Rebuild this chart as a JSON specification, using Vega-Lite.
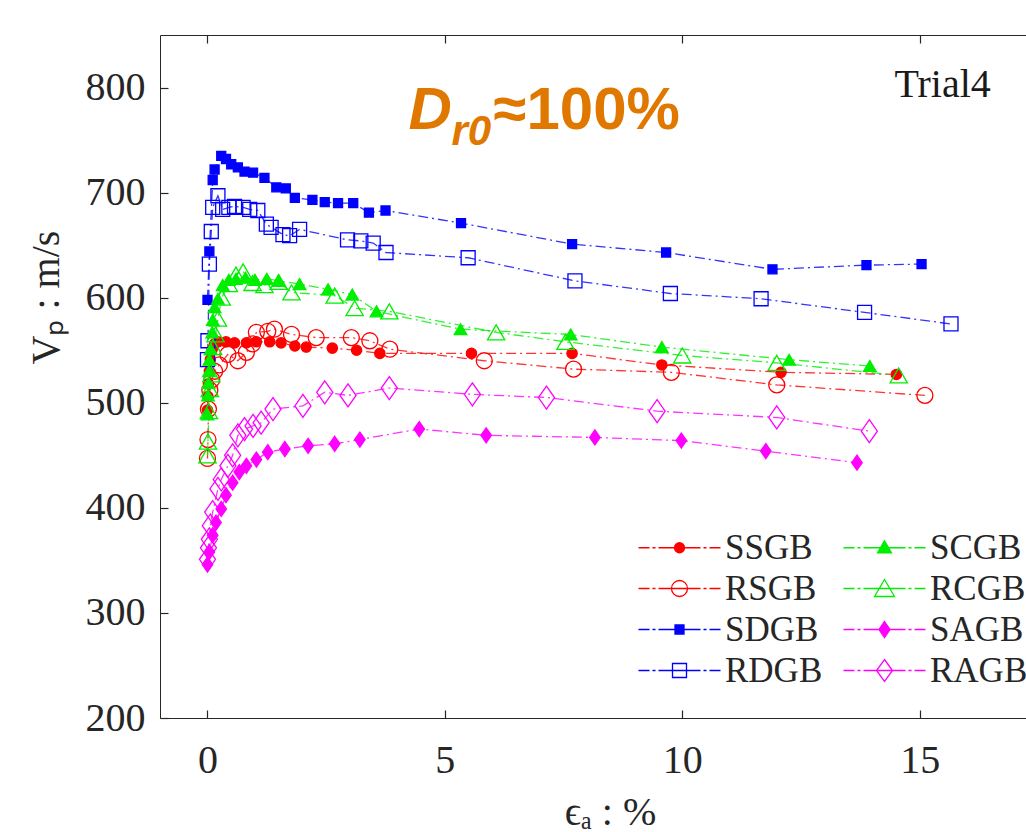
{
  "$schema": "https://vega.github.io/schema/vega-lite/v6.json",
  "autosize": "none",
  "width": 866,
  "height": 683,
  "padding": {"left": 160, "top": 35, "right": 0, "bottom": 114},
  "background": "white",
  "config": {"view": {"stroke": null}, "font": "Liberation Serif"},
  "data": {"values": [
    {"s":"SSGB","e":0,"v":493},{"s":"SSGB","e":0.01,"v":506},{"s":"SSGB","e":0.02,"v":518},{"s":"SSGB","e":0.04,"v":530},{"s":"SSGB","e":0.06,"v":541},{"s":"SSGB","e":0.1,"v":551},{"s":"SSGB","e":0.15,"v":556},{"s":"SSGB","e":0.22,"v":558},{"s":"SSGB","e":0.39,"v":558},{"s":"SSGB","e":0.57,"v":557},{"s":"SSGB","e":0.82,"v":557},{"s":"SSGB","e":1.03,"v":558},{"s":"SSGB","e":1.31,"v":558},{"s":"SSGB","e":1.55,"v":557},{"s":"SSGB","e":1.84,"v":554},{"s":"SSGB","e":2.08,"v":553},{"s":"SSGB","e":2.63,"v":552},{"s":"SSGB","e":3.14,"v":550},{"s":"SSGB","e":3.63,"v":547},{"s":"SSGB","e":5.56,"v":547},{"s":"SSGB","e":7.68,"v":547},{"s":"SSGB","e":9.57,"v":536},{"s":"SSGB","e":12.08,"v":529},{"s":"SSGB","e":14.51,"v":527},
    {"s":"RSGB","e":0,"v":447},{"s":"RSGB","e":0.01,"v":465},{"s":"RSGB","e":0.02,"v":494},{"s":"RSGB","e":0.05,"v":512},{"s":"RSGB","e":0.09,"v":522},{"s":"RSGB","e":0.15,"v":530},{"s":"RSGB","e":0.25,"v":536},{"s":"RSGB","e":0.43,"v":546},{"s":"RSGB","e":0.64,"v":540},{"s":"RSGB","e":0.82,"v":548},{"s":"RSGB","e":0.95,"v":556},{"s":"RSGB","e":1.03,"v":567},{"s":"RSGB","e":1.27,"v":568},{"s":"RSGB","e":1.41,"v":570},{"s":"RSGB","e":1.77,"v":565},{"s":"RSGB","e":2.29,"v":562},{"s":"RSGB","e":3.03,"v":562},{"s":"RSGB","e":3.42,"v":559},{"s":"RSGB","e":3.84,"v":551},{"s":"RSGB","e":5.83,"v":540},{"s":"RSGB","e":7.71,"v":532},{"s":"RSGB","e":9.77,"v":529},{"s":"RSGB","e":11.99,"v":517},{"s":"RSGB","e":15.11,"v":507},
    {"s":"SDGB","e":0,"v":598},{"s":"SDGB","e":0.04,"v":644},{"s":"SDGB","e":0.11,"v":712},{"s":"SDGB","e":0.15,"v":722},{"s":"SDGB","e":0.29,"v":735},{"s":"SDGB","e":0.39,"v":732},{"s":"SDGB","e":0.5,"v":727},{"s":"SDGB","e":0.64,"v":724},{"s":"SDGB","e":0.78,"v":720},{"s":"SDGB","e":0.96,"v":719},{"s":"SDGB","e":1.2,"v":714},{"s":"SDGB","e":1.45,"v":705},{"s":"SDGB","e":1.65,"v":704},{"s":"SDGB","e":1.84,"v":695},{"s":"SDGB","e":2.21,"v":693},{"s":"SDGB","e":2.47,"v":691},{"s":"SDGB","e":2.75,"v":690},{"s":"SDGB","e":3.07,"v":690},{"s":"SDGB","e":3.4,"v":681},{"s":"SDGB","e":3.75,"v":683},{"s":"SDGB","e":5.34,"v":671},{"s":"SDGB","e":7.68,"v":651},{"s":"SDGB","e":9.66,"v":643},{"s":"SDGB","e":11.9,"v":627},{"s":"SDGB","e":13.88,"v":631},{"s":"SDGB","e":15.04,"v":632},
    {"s":"RDGB","e":0,"v":541},{"s":"RDGB","e":0.01,"v":559},{"s":"RDGB","e":0.04,"v":632},{"s":"RDGB","e":0.08,"v":663},{"s":"RDGB","e":0.11,"v":686},{"s":"RDGB","e":0.22,"v":697},{"s":"RDGB","e":0.32,"v":684},{"s":"RDGB","e":0.45,"v":686},{"s":"RDGB","e":0.57,"v":687},{"s":"RDGB","e":0.75,"v":686},{"s":"RDGB","e":0.89,"v":684},{"s":"RDGB","e":1.06,"v":683},{"s":"RDGB","e":1.24,"v":670},{"s":"RDGB","e":1.34,"v":667},{"s":"RDGB","e":1.59,"v":660},{"s":"RDGB","e":1.73,"v":659},{"s":"RDGB","e":1.94,"v":665},{"s":"RDGB","e":2.95,"v":655},{"s":"RDGB","e":3.23,"v":654},{"s":"RDGB","e":3.49,"v":652},{"s":"RDGB","e":3.76,"v":643},{"s":"RDGB","e":5.49,"v":638},{"s":"RDGB","e":7.74,"v":616},{"s":"RDGB","e":9.75,"v":604},{"s":"RDGB","e":11.66,"v":599},{"s":"RDGB","e":13.84,"v":586},{"s":"RDGB","e":15.66,"v":575},
    {"s":"SCGB","e":0,"v":489},{"s":"SCGB","e":0.01,"v":507},{"s":"SCGB","e":0.02,"v":519},{"s":"SCGB","e":0.03,"v":530},{"s":"SCGB","e":0.04,"v":541},{"s":"SCGB","e":0.07,"v":551},{"s":"SCGB","e":0.1,"v":567},{"s":"SCGB","e":0.11,"v":579},{"s":"SCGB","e":0.15,"v":591},{"s":"SCGB","e":0.22,"v":599},{"s":"SCGB","e":0.32,"v":612},{"s":"SCGB","e":0.45,"v":617},{"s":"SCGB","e":0.6,"v":618},{"s":"SCGB","e":0.8,"v":619},{"s":"SCGB","e":1.0,"v":617},{"s":"SCGB","e":1.25,"v":618},{"s":"SCGB","e":1.5,"v":616},{"s":"SCGB","e":1.94,"v":613},{"s":"SCGB","e":2.54,"v":608},{"s":"SCGB","e":3.05,"v":603},{"s":"SCGB","e":3.56,"v":587},{"s":"SCGB","e":5.33,"v":570},{"s":"SCGB","e":7.65,"v":565},{"s":"SCGB","e":9.57,"v":553},{"s":"SCGB","e":12.25,"v":541},{"s":"SCGB","e":13.95,"v":535},
    {"s":"RCGB","e":0,"v":450},{"s":"RCGB","e":0.01,"v":463},{"s":"RCGB","e":0.03,"v":492},{"s":"RCGB","e":0.05,"v":513},{"s":"RCGB","e":0.08,"v":527},{"s":"RCGB","e":0.12,"v":553},{"s":"RCGB","e":0.17,"v":565},{"s":"RCGB","e":0.22,"v":580},{"s":"RCGB","e":0.3,"v":600},{"s":"RCGB","e":0.45,"v":613},{"s":"RCGB","e":0.6,"v":622},{"s":"RCGB","e":0.75,"v":625},{"s":"RCGB","e":0.95,"v":614},{"s":"RCGB","e":1.2,"v":612},{"s":"RCGB","e":1.5,"v":615},{"s":"RCGB","e":1.77,"v":605},{"s":"RCGB","e":2.68,"v":602},{"s":"RCGB","e":3.1,"v":590},{"s":"RCGB","e":3.83,"v":587},{"s":"RCGB","e":6.08,"v":567},{"s":"RCGB","e":7.54,"v":558},{"s":"RCGB","e":10.0,"v":545},{"s":"RCGB","e":11.99,"v":538},{"s":"RCGB","e":14.56,"v":526},
    {"s":"SAGB","e":0,"v":346},{"s":"SAGB","e":0.04,"v":358},{"s":"SAGB","e":0.11,"v":374},{"s":"SAGB","e":0.18,"v":386},{"s":"SAGB","e":0.29,"v":399},{"s":"SAGB","e":0.39,"v":412},{"s":"SAGB","e":0.53,"v":424},{"s":"SAGB","e":0.67,"v":434},{"s":"SAGB","e":0.82,"v":440},{"s":"SAGB","e":1.03,"v":446},{"s":"SAGB","e":1.27,"v":453},{"s":"SAGB","e":1.63,"v":456},{"s":"SAGB","e":2.12,"v":459},{"s":"SAGB","e":2.68,"v":461},{"s":"SAGB","e":3.21,"v":465},{"s":"SAGB","e":4.46,"v":475},{"s":"SAGB","e":5.87,"v":469},{"s":"SAGB","e":8.16,"v":467},{"s":"SAGB","e":9.98,"v":464},{"s":"SAGB","e":11.76,"v":454},{"s":"SAGB","e":13.68,"v":443},
    {"s":"RAGB","e":0,"v":351},{"s":"RAGB","e":0.02,"v":362},{"s":"RAGB","e":0.04,"v":370},{"s":"RAGB","e":0.06,"v":383},{"s":"RAGB","e":0.11,"v":396},{"s":"RAGB","e":0.22,"v":418},{"s":"RAGB","e":0.29,"v":427},{"s":"RAGB","e":0.43,"v":440},{"s":"RAGB","e":0.53,"v":450},{"s":"RAGB","e":0.64,"v":469},{"s":"RAGB","e":0.78,"v":475},{"s":"RAGB","e":0.96,"v":478},{"s":"RAGB","e":1.13,"v":481},{"s":"RAGB","e":1.38,"v":494},{"s":"RAGB","e":2.01,"v":497},{"s":"RAGB","e":2.47,"v":510},{"s":"RAGB","e":2.96,"v":507},{"s":"RAGB","e":3.83,"v":514},{"s":"RAGB","e":5.58,"v":508},{"s":"RAGB","e":7.14,"v":505},{"s":"RAGB","e":9.47,"v":492},{"s":"RAGB","e":11.99,"v":486},{"s":"RAGB","e":13.94,"v":473}
  ]},
  "layer": [
    {
      "mark": {"type": "line", "strokeWidth": 1.3, "strokeDash": [10, 4, 2, 4], "opacity": 0.8},
      "encoding": {
        "x": {"field": "e", "type": "quantitative",
          "scale": {"domain": [-1, 17.24], "nice": false, "zero": false},
          "axis": {"orient": "top", "values": [0, 5, 10, 15], "labels": false, "grid": false, "tickSize": -8, "tickWidth": 1.2, "tickColor": "#262626", "domainColor": "#262626", "title": null}},
        "y": {"field": "v", "type": "quantitative",
          "scale": {"domain": [200, 850], "nice": false, "zero": false},
          "axis": {"orient": "left", "values": [200, 300, 400, 500, 600, 700, 800], "grid": false, "tickSize": -8, "tickWidth": 1.2, "tickColor": "#262626", "domainColor": "#262626", "labelColor": "#262626", "labelFont": "Liberation Serif", "labelFontSize": 40, "labelPadding": 23, "title": "Vₚ : m/s", "titleFont": "Liberation Serif", "titleFontSize": 40, "titleFontWeight": "normal", "titleColor": "#262626", "titleX": -114, "titleY": 262, "titleBaseline": "middle", "titleAlign": "center", "titleAngle": -90}},
        "stroke": {"field": "s", "type": "nominal", "legend": null,
          "scale": {"domain": ["SSGB","RSGB","SDGB","RDGB","SCGB","RCGB","SAGB","RAGB"], "range": ["#ff0000","#ff0000","#0000ff","#0000ff","#00ee00","#00ee00","#ff00ff","#ff00ff"]}}
      }
    },
    {
      "mark": {"type": "point", "strokeWidth": 1.3, "opacity": 1},
      "encoding": {
        "x": {"field": "e", "type": "quantitative",
          "axis": {"orient": "bottom", "values": [0, 5, 10, 15], "grid": false, "tickSize": -8, "tickWidth": 1.2, "tickColor": "#262626", "domainColor": "#262626", "labelColor": "#262626", "labelFont": "Liberation Serif", "labelFontSize": 40, "labelPadding": 30, "labelBaseline": "top", "title": "ϵₐ : %", "titleFont": "Liberation Serif", "titleFontSize": 40, "titleFontWeight": "normal", "titleColor": "#262626", "titleX": 450, "titleY": 94, "titleBaseline": "middle", "titleAlign": "center"}},
        "y": {"field": "v", "type": "quantitative"},
        "stroke": {"field": "s", "type": "nominal", "legend": null,
          "scale": {"domain": ["SSGB","RSGB","SDGB","RDGB","SCGB","RCGB","SAGB","RAGB"], "range": ["#ff0000","#ff0000","#0000ff","#0000ff","#00ee00","#00ee00","#ff00ff","#ff00ff"]}},
        "fill": {"field": "s", "type": "nominal", "legend": null,
          "scale": {"domain": ["RAGB","SAGB","RCGB","SCGB","RDGB","SDGB","RSGB","SSGB"], "range": ["transparent","#ff00ff","transparent","#00ee00","transparent","#0000ff","transparent","#ff0000"]}},
        "shape": {"field": "s", "type": "nominal", "legend": null,
          "scale": {"domain": ["RAGB","SAGB","RCGB","SCGB","RDGB","SDGB","RSGB","SSGB"], "range": ["M0,-1L0.7,0L0,1L-0.7,0Z","M0,-1L0.7,0L0,1L-0.7,0Z","triangle-up","triangle-up","square","square","circle","circle"]}},
        "size": {"field": "s", "type": "nominal", "legend": null,
          "scale": {"type": "ordinal", "domain": ["RAGB","SAGB","RCGB","SCGB","RDGB","SDGB","RSGB","SSGB"], "range": [529, 225, 300, 160, 196, 81, 256, 105]}}
      }
    },
    {
      "transform": [{"filter": "datum.e < -5"}],
      "mark": {"type": "point", "strokeWidth": 1.3, "opacity": 1},
      "encoding": {
        "x": {"field": "e", "type": "quantitative", "axis": null},
        "y": {"field": "v", "type": "quantitative"},
        "stroke": {"field": "s", "type": "nominal",
          "scale": {"domain": ["SSGB","RSGB","SDGB","RDGB","SCGB","RCGB","SAGB","RAGB"], "range": ["#ff0000","#ff0000","#0000ff","#0000ff","#00ee00","#00ee00","#ff00ff","#ff00ff"]}},
        "fill": {"field": "s", "type": "nominal",
          "scale": {"domain": ["SSGB","RSGB","SDGB","RDGB","SCGB","RCGB","SAGB","RAGB"], "range": ["#ff0000","transparent","#0000ff","transparent","#00ee00","transparent","#ff00ff","transparent"]}},
        "shape": {"field": "s", "type": "nominal",
          "scale": {"domain": ["SSGB","RSGB","SDGB","RDGB","SCGB","RCGB","SAGB","RAGB"], "range": [
            "M-41,0H-30M-27,0H-24M-21,0H21M24,0H27M30,0H41M-5,0A5,5,0,1,0,5,0A5,5,0,1,0,-5,0Z",
            "M-41,0H-30M-27,0H-24M-21,0H21M24,0H27M30,0H41M-8,0A8,8,0,1,0,8,0A8,8,0,1,0,-8,0Z",
            "M-41,0H-30M-27,0H-24M-21,0H21M24,0H27M30,0H41M-4.5,-4.5H4.5V4.5H-4.5Z",
            "M-41,0H-30M-27,0H-24M-21,0H21M24,0H27M30,0H41M-7,-7H7V7H-7Z",
            "M-41,0H-30M-27,0H-24M-21,0H21M24,0H27M30,0H41M0,-7L7,5H-7Z",
            "M-41,0H-30M-27,0H-24M-21,0H21M24,0H27M30,0H41M0,-9L10,8H-10Z",
            "M-41,0H-30M-27,0H-24M-21,0H21M24,0H27M30,0H41M0,-8L5.5,0L0,8L-5.5,0Z",
            "M-41,0H-30M-27,0H-24M-21,0H21M24,0H27M30,0H41M0,-11L8,0L0,11L-8,0Z"]},
          "legend": {"orient": "none", "legendX": 502, "legendY": 495, "columns": 2, "title": null, "padding": 0,
            "labelFont": "Liberation Serif", "labelFontSize": 35, "labelColor": "#262626", "labelOffset": 28,
            "columnPadding": 17, "rowPadding": 5, "symbolSize": 4, "symbolStrokeWidth": 1.3, "symbolOpacity": 1}}
      }
    },
    {
      "data": {"values": [{}]},
      "mark": {"type": "text", "text": "D", "font": "Liberation Sans", "fontSize": 60, "fontWeight": "bold", "fontStyle": "italic", "color": "#e07800", "align": "left", "baseline": "alphabetic"},
      "encoding": {"x": {"datum": 4.234, "type": "quantitative", "axis": null}, "y": {"datum": 760.5, "type": "quantitative"}}
    },
    {
      "data": {"values": [{}]},
      "mark": {"type": "text", "text": "r0", "font": "Liberation Sans", "fontSize": 42, "fontWeight": "bold", "fontStyle": "italic", "color": "#e07800", "align": "left", "baseline": "alphabetic"},
      "encoding": {"x": {"datum": 5.14, "type": "quantitative", "axis": null}, "y": {"datum": 745.3, "type": "quantitative"}}
    },
    {
      "data": {"values": [{}]},
      "mark": {"type": "text", "text": "≈100%", "font": "Liberation Sans", "fontSize": 60, "fontWeight": "bold", "color": "#e07800", "align": "left", "baseline": "alphabetic"},
      "encoding": {"x": {"datum": 6.025, "type": "quantitative", "axis": null}, "y": {"datum": 760.5, "type": "quantitative"}}
    },
    {
      "data": {"values": [{}]},
      "mark": {"type": "text", "text": "Trial4", "font": "Liberation Serif", "fontSize": 40, "color": "#1a1a1a", "align": "left", "baseline": "alphabetic"},
      "encoding": {"x": {"datum": 14.47, "type": "quantitative", "axis": null}, "y": {"datum": 791, "type": "quantitative"}}
    }
  ],
  "resolve": {"axis": {"x": "independent"}, "scale": {"stroke": "independent", "fill": "independent", "shape": "independent", "size": "independent"}}
}
